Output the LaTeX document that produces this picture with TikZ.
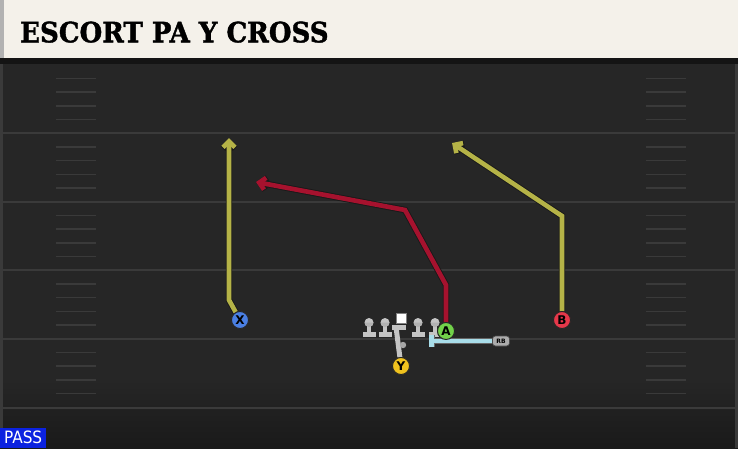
\documentclass[tikz,border=0pt]{standalone}
\usepackage{fontspec}
\setmainfont{DejaVu Sans}
\newfontfamily\titlefont{DejaVu Serif}[FakeBold=1.5]
\newfontfamily\tagfont{DejaVu Sans Condensed}
\usetikzlibrary{calc,arrows.meta}
\definecolor{fieldgrey}{HTML}{262626}
\definecolor{headercream}{HTML}{F4F1EA}
\definecolor{linegrey}{HTML}{3A3A3A}
\definecolor{routeyellow}{HTML}{B5B347}
\definecolor{routered}{HTML}{A6122E}
\definecolor{blockblue}{HTML}{A8DDE9}
\definecolor{pawngrey}{HTML}{C4C4C4}
\definecolor{xblue}{HTML}{4A7FE3}
\definecolor{agreen}{HTML}{72D24A}
\definecolor{bred}{HTML}{E6384A}
\definecolor{yyellow}{HTML}{F0C21E}
\definecolor{passblue}{HTML}{0B22E0}

\begin{document}
\begin{tikzpicture}[x=1pt,y=-1pt]
% styles for the play sheet
\tikzstyle{player}=[circle,draw=black!85,line width=0.9pt,minimum size=17pt,inner sep=0pt,font=\bfseries\fontsize{12}{12}\selectfont]
\tikzstyle{route}=[line width=4.6pt,preaction={draw=black!90,line width=6.4pt},-{Straight Barb[length=6pt,width=12pt]}]
\tikzstyle{yard line}=[linegrey,line width=2pt]
\tikzstyle{hash}=[linegrey,line width=1.5pt]
\tikzstyle{lineman}=[fill=pawngrey]
\tikzset{
block/.style={blockblue,line width=4.5pt,preaction={draw=black!60,line width=5.5pt},-{Bar[width=12pt]}},
rb tag/.style={rounded corners=3pt,fill=gray!65,draw=black!70,line width=0.6pt,minimum width=17pt,minimum height=10pt,inner sep=0pt,font=\bfseries\fontsize{6}{6}\selectfont}
}
\useasboundingbox (0,0) rectangle (738,448);

% field and header
\fill[fieldgrey] (0,0) rectangle (738,448);
\shade[top color=fieldgrey,bottom color=black!90] (0,380) rectangle (738,448);
\fill[headercream] (0,0) rectangle (738,58);
\fill[gray!60] (0,0) rectangle (4,58);
\fill[black!92] (0,58) rectangle (738,64);
\draw[linegrey,line width=3pt] (1.5,64) -- (1.5,448);
\draw[linegrey,line width=3pt] (736.5,64) -- (736.5,448);
\node[anchor=base west,inner sep=0pt,font=\titlefont\bfseries\fontsize{28}{28}\selectfont] (title) at (20,42.3) {\scalebox{0.93}[1]{ESCORT PA Y CROSS}};

% yard lines and hash marks
\foreach \y in {133,201.5,270,338.5,407.5}
  \draw[yard line] (0,\y) -- (738,\y);
\foreach \y in {64.5,133,201.5,270,338.5}
  \foreach \k in {1,...,4} {
    \draw[hash] (56,\y+13.75*\k) -- (96,\y+13.75*\k);
    \draw[hash] (646,\y+13.75*\k) -- (686,\y+13.75*\k);
  }

% offensive line
\foreach \x in {369,385,418,435} {
  \fill[lineman] (\x-2,322) rectangle (\x+2,333);
  \fill[lineman] (\x-6.5,331.5) rectangle (\x+6.5,336.5);
  \fill[lineman] (\x,322.5) circle (4.5);
  \fill[gray!60] (\x,322.5) ++(-4.5,0) arc (180:360:4.5 and -4.5) -- cycle;
}
\fill[lineman] (392,325) rectangle (406,330);
\node[draw=gray,line width=0.6pt,fill=white,minimum size=10pt,inner sep=0pt] (center) at (401,318.5) {};

% players
\node[player,fill=xblue] (X) at (240,320) {X};
\node[player,fill=agreen] (A) at (446,331) {A};
\node[player,fill=bred] (B) at (562,320) {B};
\node[player,fill=yyellow] (Y) at (401,366) {Y};
\node[rb tag] (rb) at (501,341) {RB};

\coordinate (xbend) at (229,300);
\coordinate (xend) at (229,138);
\coordinate (abend) at (446,285);
\coordinate (apost) at (405,210);
\coordinate (aend) at (256,182);
\coordinate (bbend) at (562,216);
\coordinate (bend) at (452,143);
\coordinate (ypivot) at (396,327);
\coordinate (rbblock) at (429,341);

% routes
\draw[pawngrey,line width=5pt] (Y) -- (ypivot);
\fill[gray!70] (403,345) circle (3.2);
\draw[block] (rb) -- (rbblock);
\draw[route,routeyellow] (X) -- (xbend) -- (xend);
\draw[route,routered] (A) -- (abend) -- (apost) -- (aend);
\draw[route,routeyellow] (B) -- (bbend) -- (bend);
\node[player,fill=agreen] at (A) {A};
\node[player,fill=xblue] at (X) {X};
\node[player,fill=bred] at (B) {B};
\node[player,fill=yyellow] at (Y) {Y};

% formation tag
\node[fill=passblue,text=white,anchor=south west,minimum width=46pt,minimum height=20pt,inner sep=0pt,font=\tagfont\fontsize{17}{17}\selectfont] (pass) at (0,448) {PASS};
\end{tikzpicture}
\end{document}
